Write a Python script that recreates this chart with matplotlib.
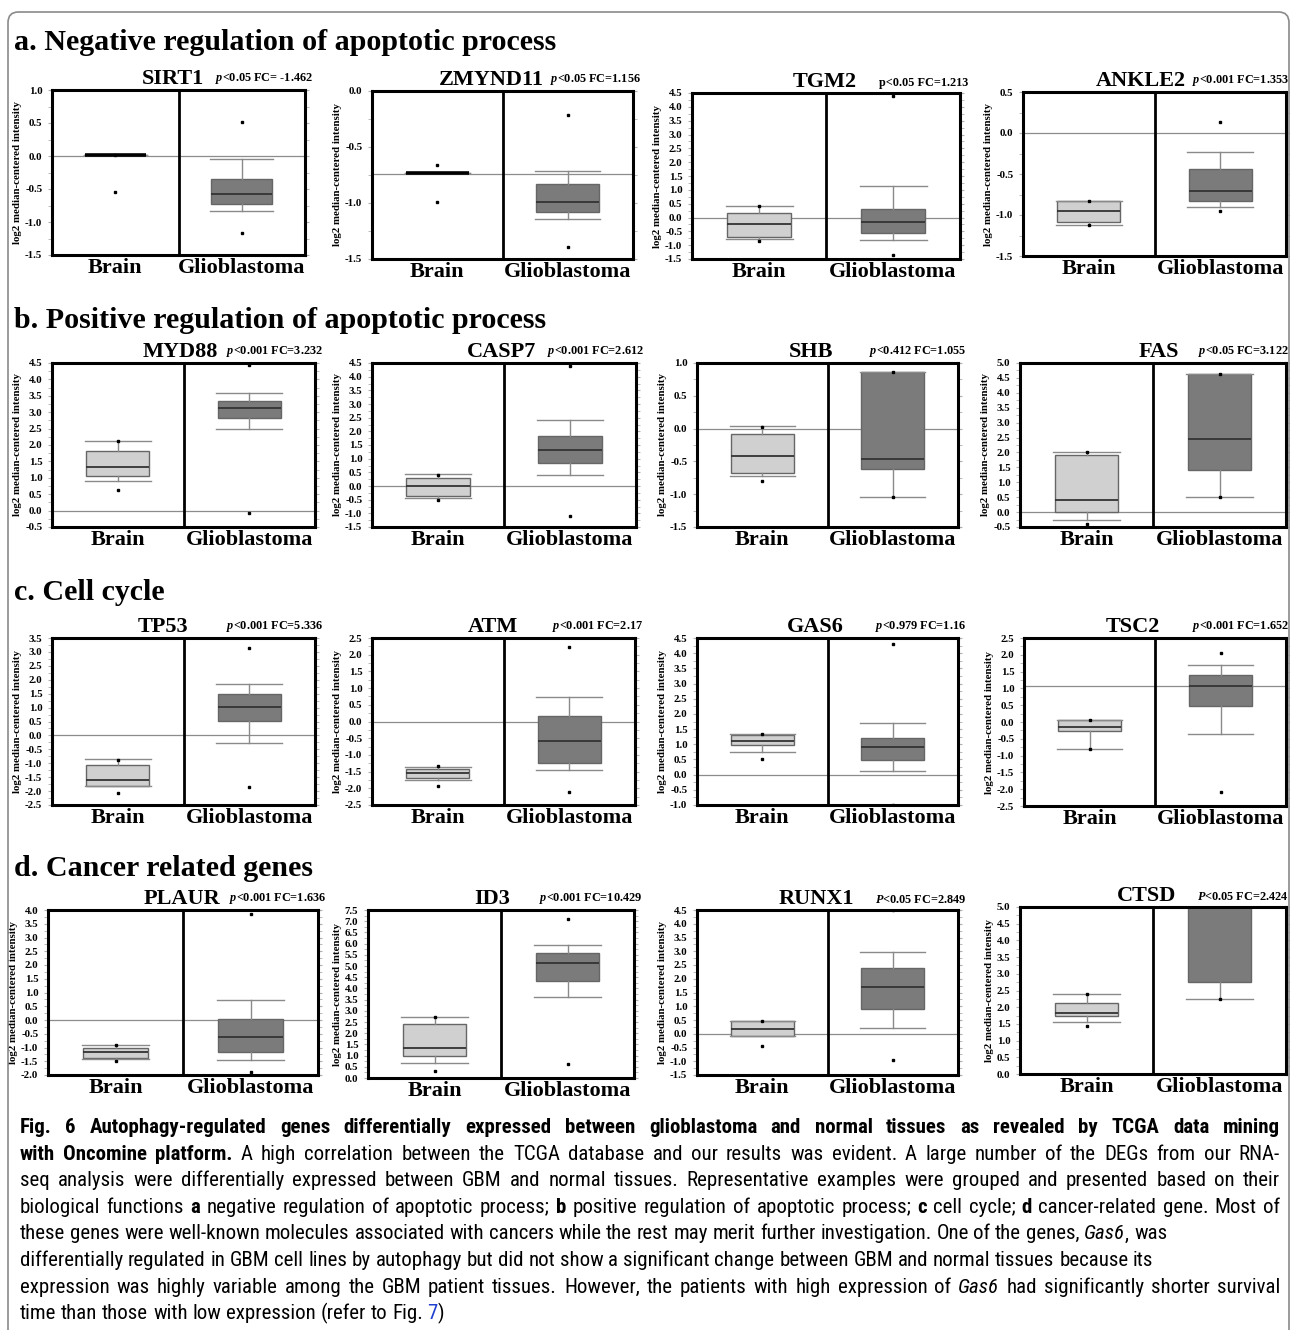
import re
import numpy as np
import matplotlib
matplotlib.use("Agg")
import matplotlib.pyplot as plt
from matplotlib import font_manager
from matplotlib.patches import FancyBboxPatch
from matplotlib.ticker import MultipleLocator

plt.rcParams['font.family'] = 'Liberation Serif'
plt.rcParams['font.weight'] = 'bold'
plt.rcParams['axes.unicode_minus'] = False
plt.rcParams['mathtext.fontset'] = 'custom'
plt.rcParams['mathtext.it'] = 'Liberation Serif:italic:bold'
plt.rcParams['mathtext.rm'] = 'Liberation Serif:bold'

W, H = 1290, 1330

###############################################################################
# data: box stats = (whisker low, q1, median, q3, whisker high), points = (min, max)
###############################################################################
genes = ["SIRT1", "ZMYND11", "TGM2", "ANKLE2",
         "MYD88", "CASP7", "SHB", "FAS",
         "TP53", "ATM", "GAS6", "TSC2",
         "PLAUR", "ID3", "RUNX1", "CTSD"]

p_text = ["$p$<0.05 FC= -1.462", "$p$<0.05 FC=1.156", "p<0.05 FC=1.213", "$p$<0.001 FC=1.353",
          "$p$<0.001 FC=3.232", "$p$<0.001 FC=2.612", "$p$<0.412 FC=1.055", "$p$<0.05 FC=3.122",
          "$p$<0.001 FC=5.336", "$p$<0.001 FC=2.17", "$p$<0.979 FC=1.16", "$p$<0.001 FC=1.652",
          "$p$<0.001 FC=1.636", "$p$<0.001 FC=10.429", "$P$<0.05 FC=2.849", "$P$<0.05 FC=2.424"]

brain_stats = [(0.01, 0.01, 0.01, 0.01, 0.01), (-0.73, -0.73, -0.73, -0.73, -0.73),
               (-0.78, -0.71, -0.24, 0.155, 0.43), (-1.124, -1.084, -0.95, -0.835, -0.835),
               (0.9, 1.04, 1.33, 1.82, 2.12), (-0.45, -0.37, 0.0, 0.29, 0.43),
               (-0.72, -0.68, -0.42, -0.08, 0.04), (-0.26, 0.0, 0.41, 1.92, 2.0),
               (-1.80, -1.80, -1.59, -1.06, -0.865), (-1.75, -1.69, -1.54, -1.42, -1.36),
               (0.73, 0.96, 1.12, 1.32, 1.35), (-0.79, -0.26, -0.14, 0.06, 0.06),
               (-1.42, -1.38, -1.16, -1.02, -0.91), (0.67, 0.99, 1.32, 2.43, 2.73),
               (-0.08, -0.08, 0.17, 0.46, 0.46), (1.57, 1.74, 1.84, 2.14, 2.4)]
brain_pts = [(-0.55, 0.02), (-0.995, -0.665), (-0.84, 0.43), (-1.12, -0.83),
             (0.63, 2.12), (-0.5, 0.4), (-0.8, 0.03), (-0.39, 2.0),
             (-2.06, -0.87), (-1.93, -1.33), (0.53, 1.35), (-0.79, 0.06),
             (-1.49, -0.9), (0.3, 2.73), (-0.45, 0.46), (1.45, 2.4)]

gbm_stats = [(-0.84, -0.73, -0.58, -0.35, -0.045), (-1.143, -1.084, -0.995, -0.83, -0.716),
             (-0.805, -0.565, -0.18, 0.31, 1.14), (-0.9, -0.827, -0.708, -0.443, -0.227),
             (2.48, 2.83, 3.14, 3.35, 3.58), (0.4, 0.84, 1.31, 1.83, 2.41),
             (-1.04, -0.62, -0.46, 0.86, 0.86), (0.52, 1.41, 2.44, 4.64, 4.64),
             (-0.26, 0.53, 1.03, 1.49, 1.83), (-1.45, -1.24, -0.58, 0.16, 0.73),
             (0.13, 0.49, 0.92, 1.22, 1.69), (-0.37, 0.49, 1.06, 1.40, 1.70),
             (-1.45, -1.16, -0.62, 0.04, 0.73), (3.6, 4.34, 5.12, 5.59, 5.94),
             (0.21, 0.9, 1.7, 2.39, 2.97), (2.24, 2.74, 5.3, 5.6, 6.0)]
gbm_pts = [(-1.17, 0.52), (-1.396, -0.217), (-1.34, 4.39), (-0.95, 0.14),
           (-0.06, 4.43), (-1.1, 4.39), (-1.04, 0.86), (0.52, 4.64),
           (-1.86, 3.15), (-2.11, 2.23), (-1.0, 4.3), (-2.08, 2.05),
           (-1.9, 3.85), (0.61, 7.08), (-0.95, 4.5), (2.24, 6.3)]

ref_line = [0, -0.737, 0, 0, 0, 0, 0, 0, 0, 0, 0, 1.07, 0, 0, 0, 0]
y_lo = [-1.5, -1.5, -1.5, -1.5, -0.5, -1.5, -1.5, -0.5, -2.5, -2.5, -1.0, -2.5, -2.0, 0.0, -1.5, 0.0]
y_hi = [1.0, 0.0, 4.5, 0.5, 4.5, 4.5, 1.0, 5.0, 3.5, 2.5, 4.5, 2.5, 4.0, 7.5, 4.5, 5.0]

groups = ["Brain", "Glioblastoma"]
sections = ["a. Negative regulation of apoptotic process",
            "b. Positive regulation of apoptotic process",
            "c. Cell cycle",
            "d. Cancer related genes"]

caption = [
    "**Fig. 6 Autophagy-regulated genes differentially expressed between glioblastoma and normal tissues as revealed by TCGA data mining**",
    "**with Oncomine platform.** A high correlation between the TCGA database and our results was evident. A large number of the DEGs from our RNA-",
    "seq analysis were differentially expressed between GBM and normal tissues. Representative examples were grouped and presented based on their",
    "biological functions **a** negative regulation of apoptotic process; **b** positive regulation of apoptotic process; **c** cell cycle; **d** cancer-related gene. Most of",
    "these genes were well-known molecules associated with cancers while the rest may merit further investigation. One of the genes, _Gas6_, was",
    "differentially regulated in GBM cell lines by autophagy but did not show a significant change between GBM and normal tissues because its",
    "expression was highly variable among the GBM patient tissues. However, the patients with high expression of _Gas6_ had significantly shorter survival",
    "time than those with low expression (refer to Fig. {7})",
]
justify = [True, True, True, True, False, False, True, False]

###############################################################################
# layout (pixels)
###############################################################################
panel_px = [(52, 305, 90, 255), (372, 633, 91, 259), (692, 960, 93, 259), (1023, 1286, 92, 256),
            (52, 315, 363, 527), (372, 636, 363, 527), (697, 958, 363, 527), (1020, 1286, 363, 527),
            (52, 315, 638, 805), (372, 635, 638, 805), (697, 958, 638, 805), (1024, 1286, 638, 806),
            (48, 318, 910, 1075), (368, 634, 910, 1078), (697, 958, 910, 1075), (1020, 1286, 907, 1074)]
title_dx = [-6, -11, -1, -14, -3, -2, -16, 6, -20, -11, -12, -22, -1, -9, -11, -6]
section_y = [42, 321, 593, 868]

fig = plt.figure(figsize=(W / 100, H / 100), dpi=100)

frame = FancyBboxPatch((8 / W, -0.02), (1289 - 8) / W, 1.02 - 12 / H,
                       boxstyle="round,pad=0,rounding_size=0.008",
                       transform=fig.transFigure, facecolor="none",
                       edgecolor="#8a8a8a", lw=1.2)
fig.add_artist(frame)

for s, y in zip(sections, section_y):
    fig.text(14 / W, 1 - y / H, s, fontsize=21.6, fontweight='bold', va='center', ha='left')

for i, g in enumerate(genes):
    x0, x1, yt, yb = panel_px[i]
    ax = fig.add_axes([x0 / W, 1 - yb / H, (x1 - x0) / W, (yb - yt) / H])
    stats = []
    for st, pts in ((brain_stats[i], brain_pts[i]), (gbm_stats[i], gbm_pts[i])):
        stats.append(dict(whislo=st[0], q1=st[1], med=st[2], q3=st[3], whishi=st[4],
                          fliers=np.array(pts)))
    ax.axhline(ref_line[i], color="#8c8c8c", lw=0.9, zorder=1)
    bp = ax.bxp(stats, positions=[0.5, 1.5], widths=0.48, capwidths=0.5,
                patch_artist=True, manage_ticks=False,
                boxprops=dict(edgecolor="#666666", lw=1.0),
                whiskerprops=dict(color="#8a8a8a", lw=1.0),
                capprops=dict(color="#8a8a8a", lw=1.0),
                medianprops=dict(color="#333333", lw=1.3),
                flierprops=dict(marker='s', markersize=2.0, markerfacecolor='black',
                                markeredgecolor='black', linestyle='none'))
    bp['boxes'][0].set_facecolor("#d0d0d0")
    bp['boxes'][1].set_facecolor("#7b7b7b")
    for k, st in enumerate((brain_stats[i], gbm_stats[i])):
        if st[1] == st[3]:
            bp['medians'][k].set_color('black')
            bp['medians'][k].set_linewidth(2.6)
    ax.axvline(1.0, color='black', lw=2.0, zorder=5)
    ax.set_xlim(0, 2)
    ax.set_ylim(y_lo[i], y_hi[i])
    ax.yaxis.set_major_locator(MultipleLocator(0.5))
    ax.yaxis.set_minor_locator(MultipleLocator(0.25))
    ax.yaxis.set_major_formatter(matplotlib.ticker.FormatStrFormatter('%.1f'))
    ax.tick_params(axis='y', which='both', direction='out', left=True, right=True,
                   color="#b0b0b0", length=3, labelsize=7.8, pad=4)
    ax.set_xticks([0.5, 1.5], groups)
    ax.tick_params(axis='x', length=0, labelsize=16, pad=2)
    for sp in ax.spines.values():
        sp.set_linewidth(2.2)
        sp.set_zorder(6)
    ax.set_ylabel("log2 median-centered intensity", fontsize=7.8, fontweight='bold', labelpad=2)
    ax.annotate(g, xy=(0.5, 1), xycoords='axes fraction', xytext=(title_dx[i] * 0.72, 1),
                textcoords='offset points', ha='center', va='bottom', fontsize=16,
                fontweight='bold')
    ax.annotate(p_text[i], xy=(1, 1), xycoords='axes fraction', xytext=(2 if x1 > 1200 else 6, 3),
                textcoords='offset points', ha='right', va='bottom', fontsize=8.8,
                fontweight='bold')

###############################################################################
# caption, laid out word by word
###############################################################################
installed = font_manager.fontManager.ttflist
names = {f.name for f in installed}
cap_stretch = 'normal'
if 'Liberation Sans Narrow' in names:
    cap_family = ['Liberation Sans Narrow', 'DejaVu Sans']
elif 'Roboto Condensed' in names:
    cap_family = ['Roboto Condensed', 'DejaVu Sans']
elif any(f.name == 'DejaVu Sans' and f.stretch == 'condensed' for f in installed):
    cap_family = ['DejaVu Sans']
    cap_stretch = 'condensed'
else:
    cap_family = ['Roboto', 'DejaVu Sans']
renderer = fig.canvas.get_renderer()


def runs(s):
    out = []
    for m in re.finditer(r'\*\*(.+?)\*\*|_(.+?)_|\{(.+?)\}|([^*_{}]+)', s):
        if m.group(1):
            out.append((m.group(1), 'bold'))
        elif m.group(2):
            out.append((m.group(2), 'italic'))
        elif m.group(3):
            out.append((m.group(3), 'blue'))
        else:
            out.append((m.group(4), 'normal'))
    return out


def words(s):
    ws = [[]]
    for txt, st in runs(s):
        parts = txt.split(' ')
        for k, p in enumerate(parts):
            if k > 0:
                ws.append([])
            if p:
                ws[-1].append((p, st))
    return [w for w in ws if w]


def make_text(txt, st, size):
    kw = dict(fontsize=size, family=cap_family, stretch=cap_stretch, va='baseline',
              ha='left', fontweight='normal', color='black')
    if st == 'bold':
        kw['fontweight'] = 'bold'
    elif st == 'italic':
        kw['style'] = 'italic'
    elif st == 'blue':
        kw['color'] = '#2040d0'
    return fig.text(0, 0, txt, **kw)


def width_of(txt, st, size):
    t = make_text(txt, st, size)
    w = t.get_window_extent(renderer).width
    t.remove()
    return w


# fit font size so that an unjustified line has the width seen in the figure
base = 15.0
w6 = width_of(caption[5], 'normal', base)
cap_size = base * 1139 / w6
space_w = width_of("a a", 'normal', cap_size) - width_of("aa", 'normal', cap_size)

y0, dy = 1133, 26.6
for li, line in enumerate(caption):
    y = y0 + li * dy
    ws = words(line)
    objs, widths = [], []
    for w in ws:
        row, tot = [], 0
        for txt, st in w:
            t = make_text(txt, st, cap_size)
            t.set_y(1 - y / H)
            wp = t.get_window_extent(renderer).width
            row.append((t, wp))
            tot += wp
        objs.append(row)
        widths.append(tot)
    gap = space_w
    if justify[li] and len(ws) > 1:
        gap = (1280 - 20 - sum(widths)) / (len(ws) - 1)
    x = 20
    for row in objs:
        for t, wp in row:
            t.set_x(x / W)
            x += wp
        x += gap

fig.savefig("out.png", dpi=100)
